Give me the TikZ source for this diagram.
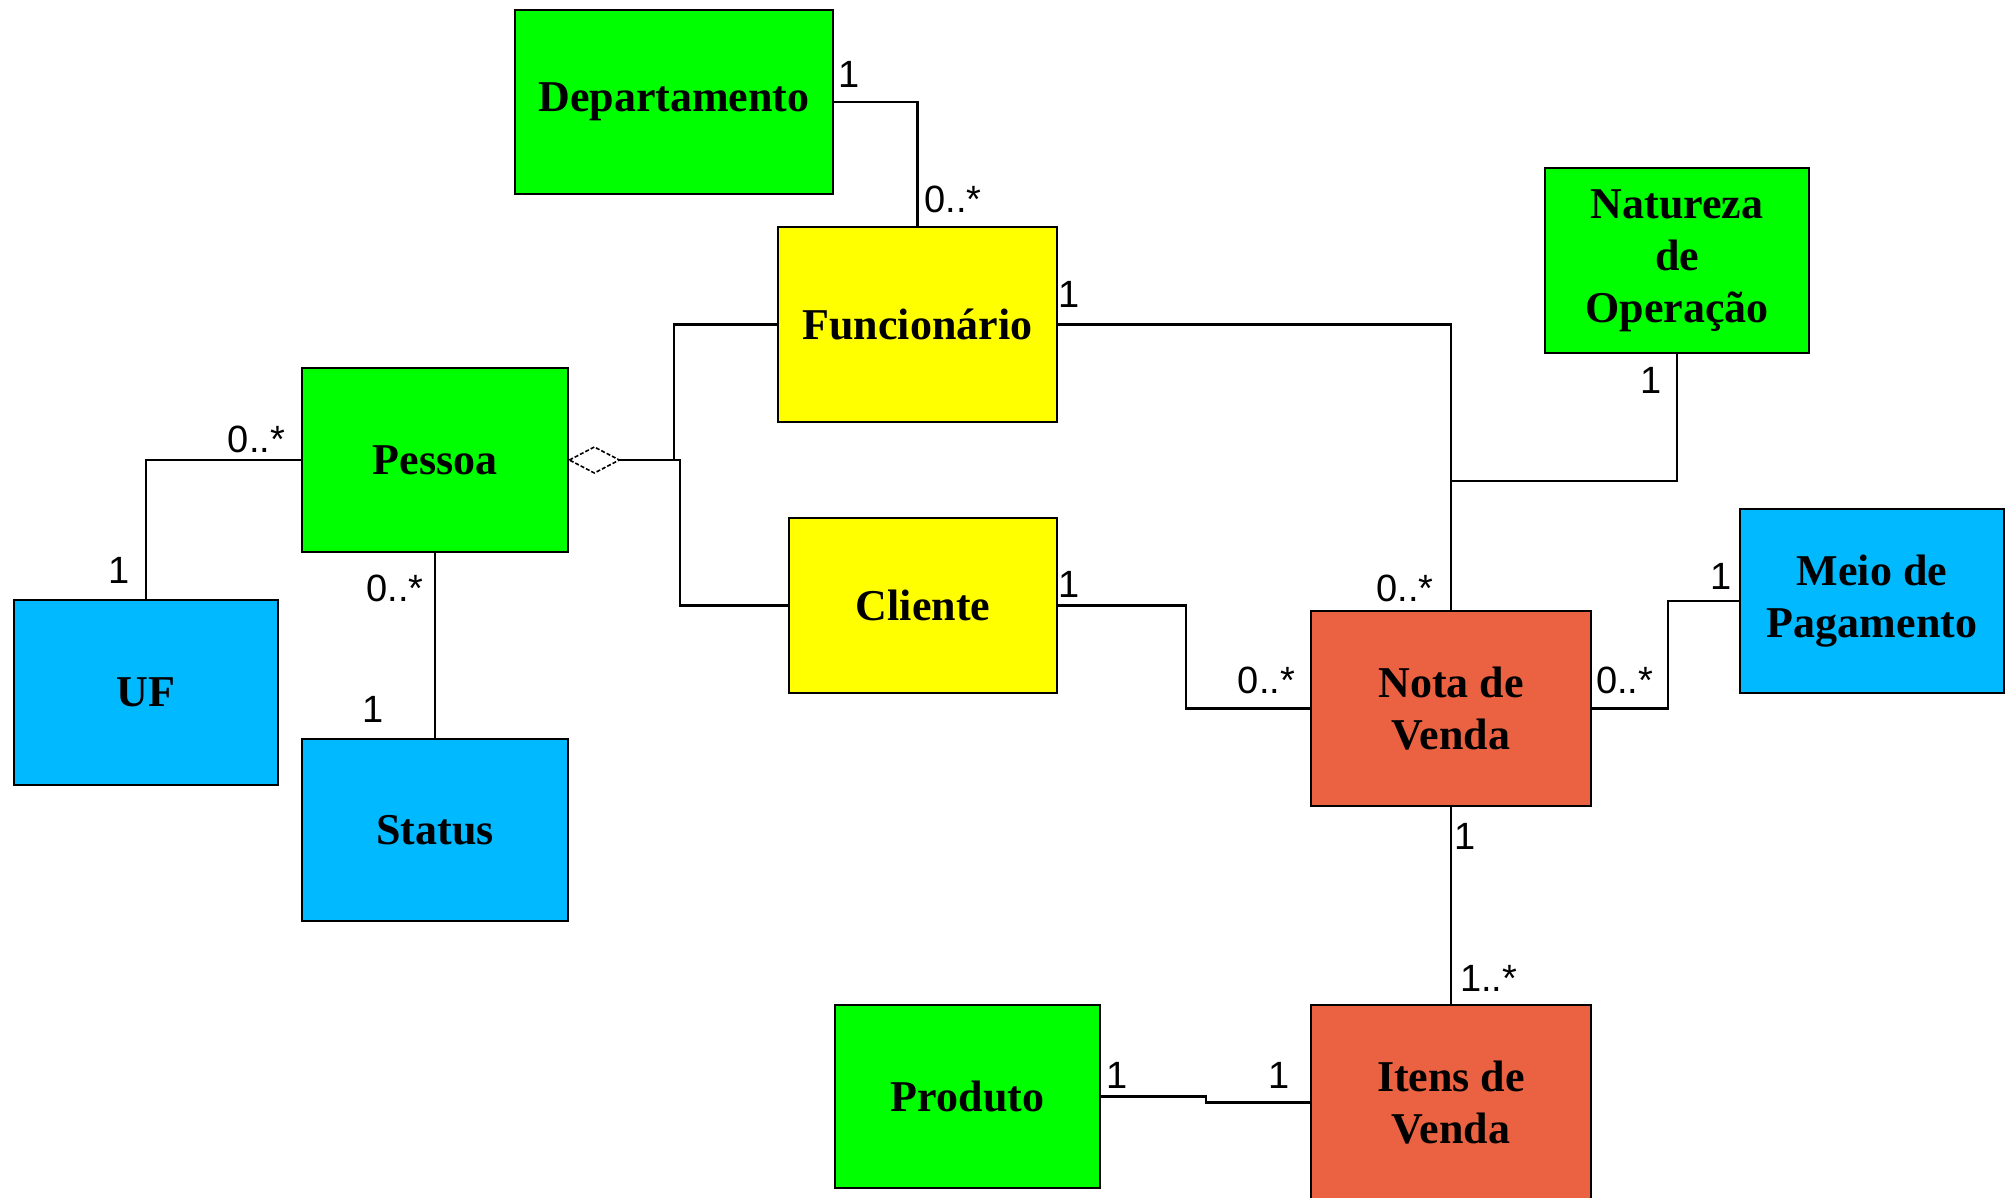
\documentclass[tikz,border=0pt]{standalone}
\usepackage{fontspec}
\setmainfont{Liberation Serif}
\setsansfont{Liberation Sans}
\definecolor{umlgreen}{RGB}{0,255,0}
\definecolor{umlyellow}{RGB}{255,255,0}
\definecolor{umlblue}{RGB}{0,185,255}
\definecolor{umlred}{RGB}{234,98,66}
\begin{document}
\begin{tikzpicture}[x=1pt,y=-1pt,
  cls/.style={draw=black, line width=2.7pt, inner sep=0pt, align=center,
    font=\fontsize{44}{52}\selectfont\bfseries},
  grn/.style={cls, fill=umlgreen},
  ylw/.style={cls, fill=umlyellow},
  blu/.style={cls, fill=umlblue},
  red/.style={cls, fill=umlred},
  link/.style={draw=black, line width=2.7pt},
  agg/.style={draw=black, fill=white, line width=1.6pt, dash pattern=on 4pt off 2pt},
  mult/.style={font=\sffamily\fontsize{38}{40}\selectfont, inner sep=0pt}
]
\clip (0,0) rectangle (2012,1197);
\fill[white] (0,0) rectangle (2012,1197);

% classes
\node[grn, minimum width=318pt, minimum height=184pt] (dep) at (674,102) {Departamento};
\node[ylw, minimum width=279pt, minimum height=195pt] (fun) at (917.5,324.5) {Funcionário};
\node[grn, minimum width=264pt, minimum height=185pt] (nat) at (1677,260.5) {Natureza\\de\\Operação};
\node[grn, minimum width=266pt, minimum height=184pt] (pes) at (435,460) {Pessoa};
\node[ylw, minimum width=268pt, minimum height=175pt] (cli) at (923,605.5) {Cliente};
\node[blu, minimum width=264pt, minimum height=185pt] (uf) at (146,692.5) {UF};
\node[blu, minimum width=266pt, minimum height=182pt] (sta) at (435,830) {Status};
\node[red, minimum width=280pt, minimum height=195pt] (nota) at (1451,708.5) {Nota de\\Venda};
\node[blu, minimum width=264pt, minimum height=184pt] (meio) at (1872,601) {Meio de\\Pagamento};
\node[grn, minimum width=265pt, minimum height=183pt] (prod) at (967.5,1096.5) {Produto};
\node[red, minimum width=280pt, minimum height=195pt] (itens) at (1451,1102.5) {Itens de\\Venda};

% bend points
\coordinate (natj) at (1451,481);
\coordinate (aggf) at (674,460);
\coordinate (aggc) at (680,460);
\coordinate (cnx) at (1186,0);
\coordinate (nmx) at (1668,0);
\coordinate (pix) at (1206,0);

% associations
\draw[link] (dep.east) -| (fun.north);
\draw[link] (fun.east) -| (nota.north);
\draw[link] (nat.south) |- (natj);
\draw[link] (pes.west) -| (uf.north);
\draw[link] (pes.south) -- (sta.north);
\draw[link] (cli.east) -- (cli.east -| cnx) |- (nota.west);
\draw[link] (nota.east) -- (nota.east -| nmx) |- (meio.west);
\draw[link] (nota.south) -- (itens.north);
\draw[link] (prod.east) -- (prod.east -| pix) |- (itens.west);

% aggregation Pessoa <> Funcionário / Cliente
\draw[agg] (pes.east) -- ++(25,-13) coordinate (dtop) -- ++(25,13) coordinate (dtip)
  -- ++(-25,13) -- cycle;
\draw[link] (dtip) -- (aggc) |- (cli.west);
\draw[link] (fun.west) -| (aggf);

% multiplicities
\node[mult] (m1) at (849.5,74) {1};
\node[mult] (m2) at (953,199) {0..*};
\node[mult] (m3) at (1069,294) {1};
\node[mult] (m4) at (1405,588) {0..*};
\node[mult] (m5) at (1651,380) {1};
\node[mult] (m6) at (256.5,439) {0..*};
\node[mult] (m7) at (119,570) {1};
\node[mult] (m8) at (395,588) {0..*};
\node[mult] (m9) at (373,709.5) {1};
\node[mult] (m10) at (1069,584) {1};
\node[mult] (m11) at (1266.5,680) {0..*};
\node[mult] (m12) at (1624.5,680) {0..*};
\node[mult] (m13) at (1721,576) {1};
\node[mult] (m14) at (1465.5,836.5) {1};
\node[mult] (m15) at (1488.5,978) {1..*};
\node[mult] (m16) at (1117.5,1075) {1};
\node[mult] (m17) at (1279,1075) {1};
\end{tikzpicture}
\end{document}
